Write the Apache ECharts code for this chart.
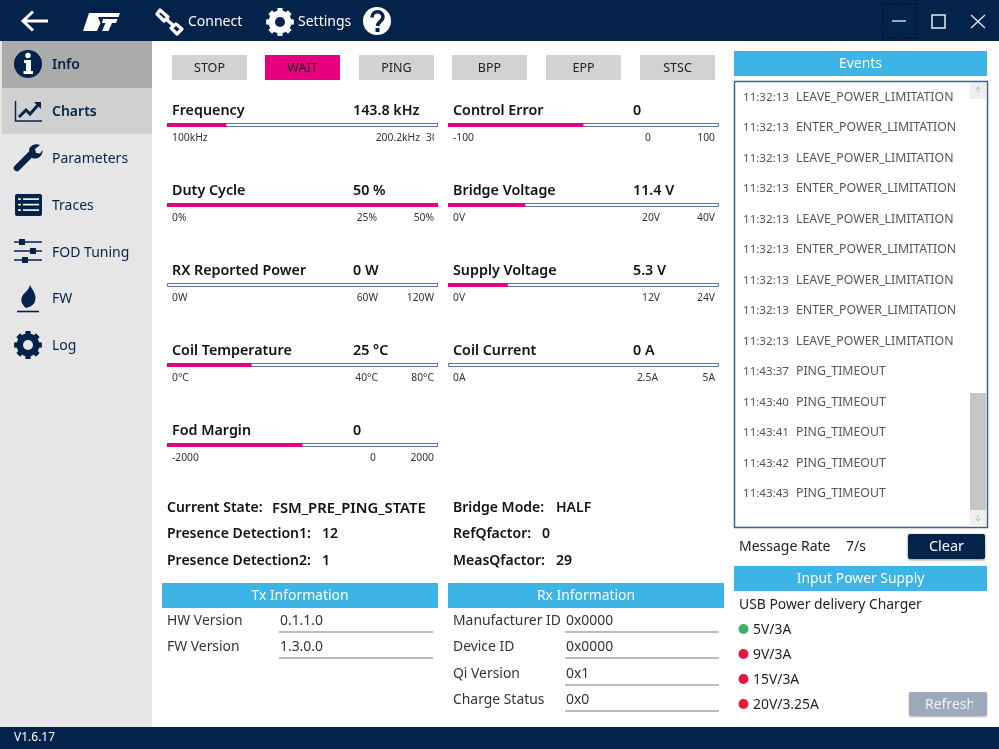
<!DOCTYPE html>
<html><head><meta charset="utf-8">
<style>html,body{margin:0;padding:0;background:#fff}#c{width:999px;height:749px}</style>
<script src="https://cdn.jsdelivr.net/npm/echarts@6/dist/echarts.min.js"></script>
</head><body><div id="c"></div>
<script>
// ---- data ----
const gaugeNames = ['Frequency','Duty Cycle','RX Reported Power','Coil Temperature','Fod Margin','Control Error','Bridge Voltage','Supply Voltage','Coil Current'];
const gaugeValues = [143.8,50,0,25,0,0,11.4,5.3,0];
const gaugeUnits = [' kHz',' %',' W',' °C','','',' V',' V',' A'];
const gaugeMins = [100,0,0,0,-2000,-100,0,0,0];
const gaugeMaxes = [300,50,120,80,2000,100,40,24,5];
const tickLow = ['100kHz','0%','0W','0°C','-2000','-100','0V','0V','0A'];
const tickMid = ['200.2kHz','25%','60W','40°C','0','0','20V','12V','2.5A'];
const tickHigh = ['300kHz','50%','120W','80°C','2000','100','40V','24V','5A'];
const stateButtons = ['STOP','WAIT','PING','BPP','EPP','STSC'];
const activeState = 'WAIT';
const navItems = ['Info','Charts','Parameters','Traces','FOD Tuning','FW','Log'];
const eventTimes = ['11:32:13','11:32:13','11:32:13','11:32:13','11:32:13','11:32:13','11:32:13','11:32:13','11:32:13','11:43:37','11:43:40','11:43:41','11:43:42','11:43:43'];
const eventNames = ['LEAVE_POWER_LIMITATION','ENTER_POWER_LIMITATION','LEAVE_POWER_LIMITATION','ENTER_POWER_LIMITATION','LEAVE_POWER_LIMITATION','ENTER_POWER_LIMITATION','LEAVE_POWER_LIMITATION','ENTER_POWER_LIMITATION','LEAVE_POWER_LIMITATION','PING_TIMEOUT','PING_TIMEOUT','PING_TIMEOUT','PING_TIMEOUT','PING_TIMEOUT'];
const statusLeft = [['Current State:','FSM_PRE_PING_STATE'],['Presence Detection1:','12'],['Presence Detection2:','1']];
const statusRight = [['Bridge Mode:','HALF'],['RefQfactor:','0'],['MeasQfactor:','29']];
const txInfo = [['HW Version','0.1.1.0'],['FW Version','1.3.0.0']];
const rxInfo = [['Manufacturer ID','0x0000'],['Device ID','0x0000'],['Qi Version','0x1'],['Charge Status','0x0']];
const chargerModes = ['5V/3A','9V/3A','15V/3A','20V/3.25A'];
const chargerActive = [true,false,false,false];

// ---- layout & style ----
const NAVY='#03234b', PINK='#e6007e', BLUE='#3cb4e6', FONT='"Noto Sans"';
const midRight=[420,377,378,378,376,651,660,660,658];
const midRowsY=[0,1,2,3,4,0,1,2,3];
const g=[];
let pathCount=0;
const T=(text,x,y,size,fill,o={})=>({type:'text',z:o.z||5,style:{text,x,y:y+1.3,fill,font:(o.bold?'600 ':'')+size+'px '+FONT,textAlign:o.align||'left',textVerticalAlign:'middle'}});
const R=(x,y,w,h,fill,o={})=>({type:'rect',z:o.z||1,shape:{x,y,width:w,height:h,r:o.r||0},style:Object.assign({fill},o.style||{})});
const P=(d,o)=>{const n='icon'+(pathCount++);echarts.graphic.registerShape(n,echarts.graphic.extendPath(d,{}));return {type:n,z:3,style:o};};
const L=(x1,y1,x2,y2,stroke,w)=>({type:'line',z:3,shape:{x1,y1,x2,y2},style:{stroke,lineWidth:w}});
const C=(cx,cy,r,fill)=>({type:'circle',z:3,shape:{cx,cy,r},style:{fill}});
function gear(cx,cy,r,hole,bg,col){
  const n=8;let d='';
  for(let i=0;i<n;i++){
    const a=i/n*2*Math.PI, s=Math.PI/n;
    const pts=[[a-s*0.52,r*0.98],[a-s*0.34,r*1.0],[a+s*0.34,r*1.0],[a+s*0.52,r*0.98],[a+s*0.62,r*0.74],[a+s*1.38,r*0.74]];
    pts.forEach((p,j)=>{d+=(i===0&&j===0?'M':'L')+(cx+p[1]*Math.cos(p[0])).toFixed(2)+' '+(cy+p[1]*Math.sin(p[0])).toFixed(2)+' ';});
  }
  g.push(P(d+'Z',{fill:col}),C(cx,cy,r*0.82,col));
  const h=C(cx,cy,hole,bg);h.z=4;g.push(h);
}

// frames
g.push(R(0,0,999,41,NAVY),R(0,727,999,22,NAVY),R(0,41,152,686,'#e6e6e6'),R(2,41,150,47,'#ababab',{z:2}),R(2,88,150,46,'#d0d0d0',{z:2}));
// top bar
g.push(P('M48 21 L25 21 M33 11.5 L23 21 L33 30.5',{fill:null,stroke:'#fff',lineWidth:3}));
g.push(P('M89 13 L120 13 L118.5 17 L98 17 L100.5 23 L97 31 L83 31 Z',{fill:'#fff'}));
g.push(P('M103 19 L117.5 19 L116 23 L112 23 L108.5 31 L102 31 L105.5 23 L102 23 Z',{fill:'#fff'}));
g.push(P('M160 10 L157 14 L164 21 L168 17 Z M176 24 L171 28 L177 34 L182 29 Z',{fill:null,stroke:'#fff',lineWidth:3.2,lineJoin:'round'}));
g.push(L(166,19,174,26,'#fff',3.2));
g.push(T('Connect',188,21,14,'#fff'));
gear(280,22,14,5,NAVY,'#fff');
g.push(T('Settings',298,21,14,'#fff'));
g.push(C(377,21,14,'#fff'));
g.push(Object.assign(P('M372 17.5 C372 10 383 10 383 17 C383 21 378 21 377.5 26',{fill:null,stroke:NAVY,lineWidth:3.6}),{z:4}));
g.push(Object.assign(R(375.5,28,4,4,NAVY),{z:4}));
g.push(P('M883 4 H916 V38 H883 Z',{fill:null,stroke:'#000',lineWidth:1,lineDash:[1,2]}));
g.push(L(892,21,906,21,'#cfd6df',1.5));
g.push(R(932,15,13,13,null,{z:3,style:{stroke:'#e8ecf0',lineWidth:1.5}}));
g.push(L(971,15,985,28,'#e8ecf0',1.3),L(985,15,971,28,'#e8ecf0',1.3));
g.push(T('V1.6.17',14,736,12,'#fff'));
// sidebar
const navY=[64,111,158,205,252,298,345];
navItems.forEach((n,i)=>g.push(T(n,52,navY[i],14,NAVY,{bold:i<2})));
g.push(C(28,64,14,NAVY));
g.push(Object.assign(P('M24 60 H31 V71 H33 V74 H23.5 V71 H26 V63 H24 Z',{fill:'#fff'}),{z:4}),Object.assign(C(28,55.5,2.7,'#fff'),{z:4}));
g.push(P('M15.5 101 V121 H42',{fill:null,stroke:NAVY,lineWidth:1.5}));
g.push(P('M19 117 L26 110 L30 114 L38 105',{fill:null,stroke:NAVY,lineWidth:3}));
g.push(P('M34 102 L41 102 L41 109 Z',{fill:NAVY}));
g.push(P('M17 168 L31 154',{fill:null,stroke:NAVY,lineWidth:6.5,lineCap:'round'}));
g.push(P('M29 150 C30 145 36 143 40 145 L35 149 L36 153 L40 153.5 L42.5 150 C43 156 38 160 32 158 Z',{fill:NAVY}));
g.push(R(15,194,27,22,NAVY,{z:3,r:2}));
[199,204.5,210].forEach(y=>{g.push(Object.assign(R(18,y-0.7,3,1.6,'#fff'),{z:4}),Object.assign(R(23,y-0.7,16,1.6,'#fff'),{z:4}));});
[[242,22],[251,33],[260,25]].forEach(a=>{g.push(L(14,a[0],42,a[0],NAVY,1.5),Object.assign(R(a[1]-3,a[0]-3,6,6,NAVY),{z:4}));});
g.push(P('M30 285 C33 291 37 295 35 301 C34 305 30 307 26 308 C21 304 20 299 23 295 C25 292 29 290 30 285 Z',{fill:NAVY}));
g.push(L(17,311.5,39,311.5,NAVY,1.6));
gear(28,345,14,5,'#e6e6e6',NAVY);
// state buttons
const btnX=[172,265,359,452,546,640];
stateButtons.forEach((b,i)=>{
  const on=b===activeState;
  g.push(R(btnX[i],55,75,25,on?PINK:'#d2d2d2'));
  g.push(T(b,btnX[i]+37.5,67,12.5,'#222',{align:'center'}));
});
// gauges: text, series
const grid=[],xAxis=[],yAxis=[],series=[];
gaugeNames.forEach((name,i)=>{
  const right=i>=5, ox=right?281:0, dy=midRowsY[i]*80;
  g.push(T(name,172+ox,110+dy,14.3,'#111',{bold:true}));
  const read=gaugeValues[i]+gaugeUnits[i];
  g.push(T(read,(right?633:353),110+dy,14.3,'#111',{bold:true}));
  g.push(T(tickLow[i],172+ox,136.5+dy,10.3,'#333',{z:8}));
  g.push(T(tickMid[i],midRight[i],136.5+dy,10.3,'#333',{align:'right',z:6}));
  if(i===0){g.push(T(tickHigh[i],426,136.5+dy,10.3,'#333',{z:6}));}
  else g.push(T(tickHigh[i],434+ox,136.5+dy,10.3,'#333',{align:'right',z:6}));
  grid.push({left:167+ox,top:123+dy,width:271,height:4,containLabel:false});
  xAxis.push({gridIndex:i,type:'value',min:gaugeMins[i],max:gaugeMaxes[i],show:false});
  yAxis.push({gridIndex:i,type:'category',data:[name],show:false});
  series.push({type:'custom',name,xAxisIndex:i,yAxisIndex:i,data:[[gaugeValues[i],0]],silent:true,animation:false,clip:false,
    encode:{x:0,y:1},
    renderItem:(params,api)=>{
      const a=api.coord([gaugeMins[i],0]), m=api.coord([gaugeMaxes[i],0]), v=api.coord([api.value(0),0]);
      return {type:'group',children:[
        {type:'rect',shape:{x:a[0]+0.5,y:a[1]-1.5,width:m[0]-a[0]-1,height:3},style:{fill:'#fff',stroke:'#5a74a8',lineWidth:1}},
        {type:'rect',shape:{x:a[0],y:a[1]-2,width:v[0]-a[0],height:4},style:{fill:PINK}}
      ]};
    }});
});
g.push(R(434,131,19,13,'#fff',{z:7}));
g.push(R(453,131,12,13,'#fff',{z:7}));
// status
statusLeft.forEach((s,i)=>{const y=[507,533,560][i];g.push(T(s[0],167,y,14,'#111',{bold:true}),T(s[1],i?322:272,y,i?14:14.8,'#111',{bold:true}));});
statusRight.forEach((s,i)=>{const y=[507,533,560][i];g.push(T(s[0],453,y,14,'#111',{bold:true}),T(s[1],[556,542,556][i],y,14,'#111',{bold:true}));});
// headers
[[162,583,276,'Tx Information'],[448,583,276,'Rx Information'],[734,51,253,'Events'],[734,566,253,'Input Power Supply']].forEach(a=>{
  g.push(R(a[0],a[1],a[2],25,BLUE));g.push(T(a[3],a[0]+a[2]/2,a[1]+12,13.9,'#fff',{align:'center'}));
});
const rowY=[620,646,673,699], lineY=[632,658,685,711];
txInfo.forEach((r,i)=>{g.push(T(r[0],167,rowY[i],13.9,'#333'),T(r[1],280,rowY[i],13.9,'#333'),L(279,lineY[i],433,lineY[i],'#a6a6a6',1.3));});
rxInfo.forEach((r,i)=>{g.push(T(r[0],453,rowY[i],13.9,'#333'),T(r[1],566,rowY[i],13.9,'#333'),L(565,lineY[i],719,lineY[i],'#a6a6a6',1.3));});
// events
g.push(R(734.5,81.5,253,446,'#fff',{style:{stroke:'#3e5e8e',lineWidth:1.5}}));
const evY=[96,126,157,187,218,248,279,309,340,370,401,431,462,492];
eventTimes.forEach((t,i)=>{g.push(T(t,743,evY[i],11.6,'#555'),T(eventNames[i],796,evY[i],12.3,'#555'));});
g.push(R(970,83,16,16,'#efefef',{z:2}),R(970,393,16,117,'#c6c6c6',{z:2}),R(970,510,16,15,'#efefef',{z:2}));
g.push(P('M978 92.5 V87 M975.5 89.5 L978 87 L980.5 89.5',{fill:null,stroke:'#bbb',lineWidth:1}));
g.push(P('M978 515 V521 M975.5 518.5 L978 521 L980.5 518.5',{fill:null,stroke:'#bbb',lineWidth:1}));
g.push(T('Message Rate',739,546,14,'#222'),T('7/s',846,546,14,'#222'));
g.push(R(908,534,77,25,NAVY,{r:2,style:{shadowBlur:3,shadowColor:'rgba(0,0,0,.45)',shadowOffsetY:1}}));
g.push(T('Clear',946.5,546,14.5,'#fff',{align:'center'}));
g.push(T('USB Power delivery Charger',739,603.5,13.9,'#222'));
chargerModes.forEach((m,i)=>{const y=[629,654,679,704][i];g.push(C(743.5,y,5,chargerActive[i]?'#3fae6a':'#e4173e'),T(m,753,y-0.5,13.9,'#222'));});
g.push(R(909,692,78,24,'#9eaabb',{r:2,style:{shadowBlur:2,shadowColor:'rgba(0,0,0,.3)',shadowOffsetY:1}}));
g.push(T('Refresh',925,704,14,'#eef1f5'));
g.push(R(973,693,13,22,'#9eaabb',{z:6}));

const chart=echarts.init(document.getElementById('c'),null,{renderer:'canvas'});
chart.setOption({animation:false,backgroundColor:'#fff',grid,xAxis,yAxis,series,graphic:{elements:g}});
</script></body></html>
